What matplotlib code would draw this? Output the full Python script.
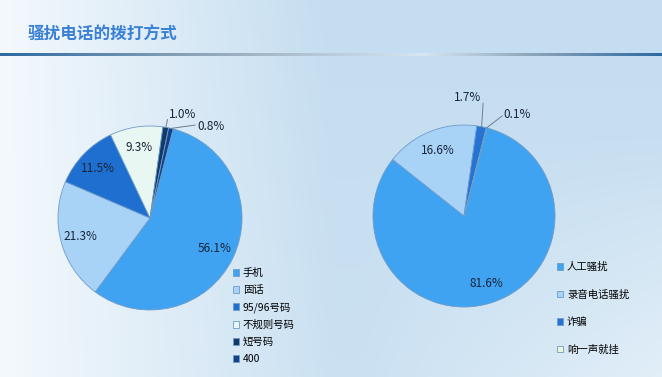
import matplotlib
matplotlib.use("Agg")
import matplotlib.pyplot as plt
import numpy as np
from matplotlib.colors import to_rgb

plt.rcParams['font.family'] = ['Noto Sans CJK SC', 'DejaVu Sans']

# 数据
title = "骚扰电话的拨打方式"

left_labels = ["手机", "固话", "95/96号码", "不规则号码", "短号码", "400"]
left_values = [56.1, 21.3, 11.5, 9.3, 1.0, 0.8]
left_colors = ["#3fa3f2", "#a9d3f6", "#1e6fd0", "#e9f7f2", "#0f3a6a", "#13418a"]

right_labels = ["人工骚扰", "录音电话骚扰", "诈骗", "响一声就挂"]
right_values = [81.6, 16.6, 1.7, 0.1]
right_colors = ["#3fa3f2", "#a9d3f6", "#2673d3", "#eef4d6"]

W, H = 662, 377
fig = plt.figure(figsize=(W / 100, H / 100), dpi=100)

# 背景渐变
bg = fig.add_axes([0, 0, 1, 1], zorder=0)
bg.axis('off')
xx, yy = np.meshgrid(np.linspace(0, 1, 300), np.linspace(0, 1, 200))
t = np.clip(xx * 2.0, 0, 1) * (1 - 0.55 * np.clip((yy - 0.35) / 0.65, 0, 1) * np.clip((xx - 0.55) / 0.45, 0, 1))
t = t * (0.85 + 0.15 * (1 - yy))
c0 = np.array(to_rgb("#f4f9fd"))
c1 = np.array(to_rgb("#c4ddf0"))
img = c0[None, None, :] * (1 - t[..., None]) + c1[None, None, :] * t[..., None]
bg.imshow(img, extent=[0, 1, 0, 1], aspect='auto', origin='upper')

# 标题下的线 (渐变条)
xs = np.linspace(0, 1, 400)
dark = np.array(to_rgb("#2c6aa3"))
gray = np.array(to_rgb("#8fa6b8"))
light = np.array(to_rgb("#d6e6f2"))
cols = []
for x in xs:
    if x < 0.3:
        c = dark * (1 - x / 0.3) + gray * (x / 0.3)
    elif x < 0.64:
        k = (x - 0.3) / 0.34
        c = gray * (1 - k) + light * k
    elif x < 0.8:
        k = (x - 0.64) / 0.16
        c = light * (1 - k) + gray * k
    else:
        k = (x - 0.8) / 0.2
        c = gray * (1 - k) + dark * k
    cols.append(c)
strip = np.array(cols)[None, :, :]
bg.imshow(strip, extent=[0, 1, 1 - 56.5 / H, 1 - 54 / H], aspect='auto',
          interpolation='bilinear')
bg.set_xlim(0, 1)
bg.set_ylim(0, 1)

fig.text(28 / W, 1 - 35 / H, title, fontsize=12, fontweight='bold',
         color="#3a80d6", va='center', ha='left')


def draw_pie(cx, cy, r, values, colors, labels, small, legend_xy, spacing):
    ax = fig.add_axes([(cx - r) / W, 1 - (cy + r) / H, 2 * r / W, 2 * r / H], zorder=2)
    wedges, _ = ax.pie(values, colors=colors, startangle=75.4, counterclock=False,
                       radius=1, wedgeprops=dict(edgecolor="#6f9cc8", linewidth=0.6))
    ax.set_xlim(-1, 1)
    ax.set_ylim(-1, 1)
    ax.set_aspect('equal')
    ax.axis('off')
    for i, (w, v) in enumerate(zip(wedges, values)):
        mid = np.deg2rad((w.theta1 + w.theta2) / 2)
        ex, ey = np.cos(mid), np.sin(mid)
        if i in small:
            (lx, ly), (tx, ty), ha, va = small[i]
            ax.plot([ex, lx], [ey, ly], color="#6b7f92", lw=0.7, clip_on=False)
            ax.text(tx, ty, f"{v:.1f}%", fontsize=8.5, color="#18253a", ha=ha, va=va)
        else:
            ax.text(0.78 * ex, 0.78 * ey, f"{v:.1f}%", fontsize=8.5, color="#18253a",
                    ha='center', va='center')
    ax.legend(wedges, labels, loc='upper left', bbox_to_anchor=legend_xy,
              bbox_transform=fig.transFigure, frameon=False, fontsize=7.5,
              handlelength=0.6, handleheight=0.6, handletextpad=0.35,
              labelspacing=spacing, borderpad=0, borderaxespad=0)


draw_pie(150, 218, 92, left_values, left_colors, left_labels,
         {4: ((0.19, 1.07), (0.21, 1.05), 'left', 'bottom'),
          5: ((0.49, 1.01), (0.51, 1.0), 'left', 'center')},
         (233 / W, 1 - 268 / H), 0.68)

draw_pie(464, 216, 91, right_values, right_colors, right_labels,
         {2: ((0.21, 1.24), (0.19, 1.30), 'right', 'center'),
          3: ((0.42, 1.10), (0.43, 1.12), 'left', 'center')},
         (557 / W, 1 - 262 / H), 1.68)

fig.savefig("out.png", dpi=100)
